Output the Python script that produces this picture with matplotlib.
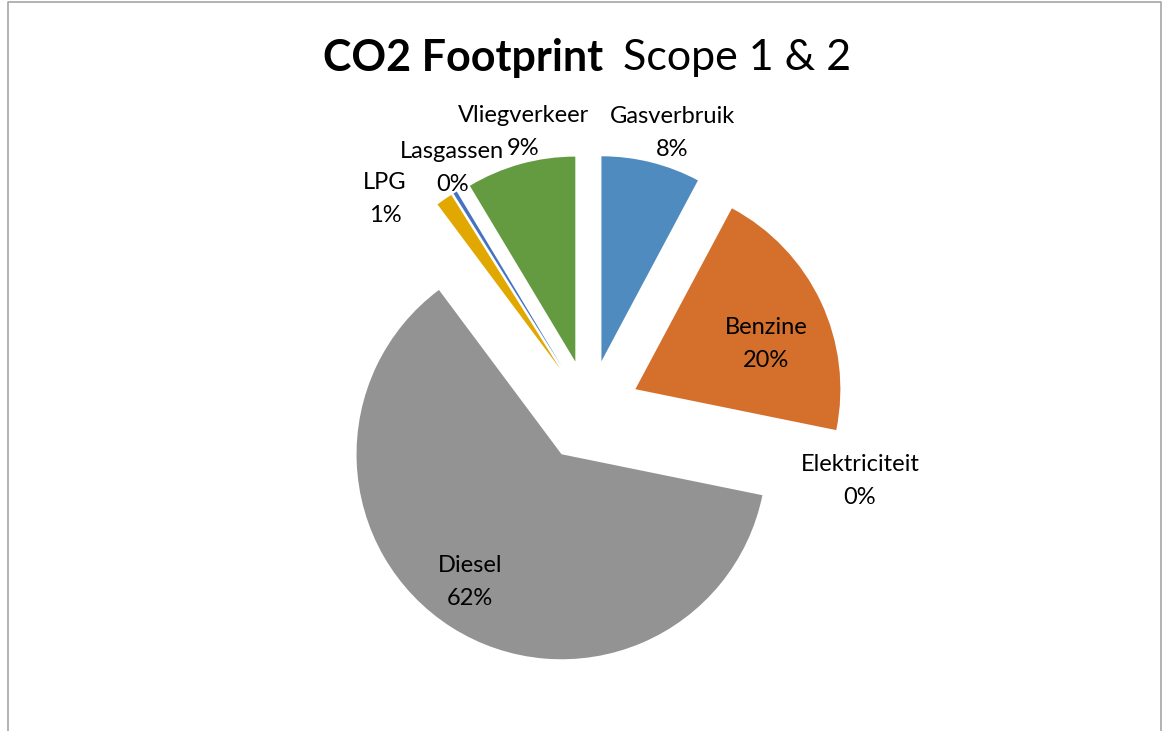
import numpy as np
import matplotlib
matplotlib.use("Agg")
import matplotlib.pyplot as plt

# data (share of total, %)
categories = ["Gasverbruik", "Benzine", "Elektriciteit", "Diesel", "LPG", "Lasgassen", "Vliegverkeer"]
shares = [7.8, 20.4, 0.0, 61.6, 1.3, 0.3, 8.6]
colors = ["#4F8BBF", "#D46F2C", "#A5A5A5", "#939393", "#E0A800", "#4472C4", "#649B41"]

# label layout: distance from pie centre (in radii) and angle shift (deg, clockwise)
label_dist = [1.415, 0.923, 1.365, 1.016, 1.436, 1.36, 1.40]
label_shift = [2.6, 4.5, 3.0, 2.4, -9.5, 2.1, 2.2]

plt.rcParams["font.family"] = ["Lato", "DejaVu Sans"]

W, H = 1165, 731
fig = plt.figure(figsize=(W / 100, H / 100), dpi=100)
ax = fig.add_axes([0, 0, 1, 1])

center = (589, H - 411)
radius = 205
wedges, _ = ax.pie(shares, colors=colors, startangle=90, counterclock=False,
                   explode=[0.25 * radius] * len(shares), radius=radius, center=center,
                   wedgeprops=dict(linewidth=0))
ax.set_xlim(0, W)
ax.set_ylim(0, H)
ax.axis("off")

line_gap = 33  # pixels between name and percentage line
for w, name, val, d, s in zip(wedges, categories, shares, label_dist, label_shift):
    theta = np.deg2rad((w.theta1 + w.theta2) / 2 - s)
    x = center[0] + d * radius * np.cos(theta)
    y = center[1] + d * radius * np.sin(theta)
    ax.text(x, y + line_gap / 2, name, ha="center", va="center", fontsize=17, color="#000000")
    ax.text(x, y - line_gap / 2, "{:.0f}%".format(val), ha="center", va="center",
            fontsize=17, color="#000000")

# title: bold part + regular part
fig.text(0.518, 1 - 58 / H, "CO2 Footprint", ha="right", va="center",
         fontsize=31, fontweight="bold")
fig.text(0.518 + 20 / W, 1 - 58 / H, "Scope 1 & 2", ha="left", va="center", fontsize=31)

# chart frame (left, top, right edges)
fx = [8 / W, 8 / W, 1161 / W, 1161 / W]
fy = [0, 1 - 1.5 / H, 1 - 1.5 / H, 0]
fig.add_artist(plt.Line2D(fx, fy, color="#A6A6A6", linewidth=1.2))

fig.savefig("out.png", dpi=100)
